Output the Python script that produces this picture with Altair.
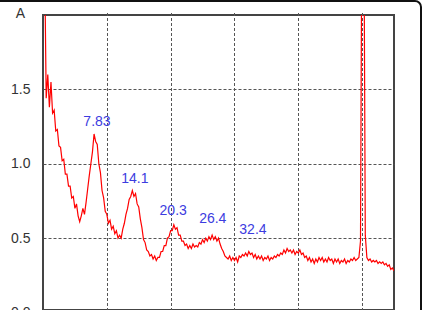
import altair as alt
import pandas as pd

amp = [
    3.00, 2.40, 1.44, 1.60,
    1.38, 1.55, 1.34, 1.36,
    1.22, 1.23, 1.12, 1.11,
    1.02, 1.03, 0.93, 0.93,
    0.85, 0.85, 0.77, 0.78,
    0.70, 0.73, 0.65, 0.61,
    0.65, 0.70, 0.66, 0.74,
    0.83, 0.92, 1.00, 1.08,
    1.20, 1.15, 1.13, 1.00,
    0.94, 0.82, 0.77, 0.68,
    0.66, 0.60, 0.62, 0.56,
    0.58, 0.53, 0.55, 0.50,
    0.52, 0.50, 0.56, 0.60,
    0.66, 0.70, 0.76, 0.78,
    0.82, 0.78, 0.80, 0.73,
    0.71, 0.63, 0.57, 0.49,
    0.47, 0.42, 0.41, 0.38,
    0.39, 0.36, 0.38, 0.35,
    0.37, 0.37, 0.41, 0.41,
    0.45, 0.45, 0.50, 0.51,
    0.55, 0.55, 0.59, 0.56,
    0.57, 0.52, 0.52, 0.48,
    0.48, 0.45, 0.46, 0.43,
    0.45, 0.43, 0.46, 0.44,
    0.45, 0.44, 0.47, 0.46,
    0.49, 0.47, 0.50, 0.48,
    0.51, 0.49, 0.52, 0.49,
    0.51, 0.48, 0.50, 0.46,
    0.43, 0.41, 0.38, 0.37,
    0.36, 0.38, 0.35, 0.37,
    0.35, 0.37, 0.34, 0.38,
    0.37, 0.39, 0.38, 0.40,
    0.38, 0.41, 0.39, 0.40,
    0.37, 0.39, 0.36, 0.38,
    0.36, 0.38, 0.35, 0.37,
    0.36, 0.38, 0.35, 0.37,
    0.36, 0.38, 0.37, 0.39,
    0.38, 0.40, 0.39, 0.42,
    0.40, 0.43, 0.41, 0.42,
    0.40, 0.42, 0.39, 0.41,
    0.40, 0.42, 0.39, 0.40,
    0.37, 0.38, 0.35, 0.37,
    0.34, 0.36, 0.33, 0.36,
    0.34, 0.37, 0.35, 0.37,
    0.34, 0.36, 0.34, 0.37,
    0.35, 0.36, 0.33, 0.36,
    0.34, 0.36, 0.33, 0.35,
    0.34, 0.36, 0.33, 0.35,
    0.34, 0.36, 0.35, 0.37,
    0.35, 0.36, 0.37, 0.48,
    3.00, 3.00, 0.52, 0.37,
    0.35, 0.36, 0.34, 0.35,
    0.34, 0.35, 0.33, 0.34,
    0.33, 0.34, 0.32, 0.33,
    0.31, 0.32, 0.29, 0.30,
    0.28,
]
freq = [i * 0.25 for i in range(len(amp))]

peak_labels = ["7.83", "14.1", "20.3", "26.4", "32.4"]
peak_label_x = [8.46, 14.4, 20.4, 26.6, 32.9]
peak_label_y = [1.28, 0.90, 0.68, 0.63, 0.555]

y_ticks = [0.0, 0.5, 1.0, 1.5]
x_grid = [10, 20, 30, 40, 50]

df = pd.DataFrame({"f": freq, "a": amp})
lab = pd.DataFrame({"t": peak_labels, "x": peak_label_x, "y": peak_label_y})
one = pd.DataFrame({"k": [0]})

xs = alt.Scale(domain=[0, 55], nice=False, zero=False)
ys = alt.Scale(domain=[0, 2], range=[297.5, 0], nice=False, zero=False)

line = alt.Chart(df).mark_line(color="#ff0000", strokeWidth=1.2, clip=True).encode(
    x=alt.X("f:Q", scale=xs,
            axis=alt.Axis(values=x_grid, labels=False, ticks=False, domain=False,
                          title=None, grid=True, gridColor="#555555",
                          gridDash=[3, 2], gridWidth=1)),
    y=alt.Y("a:Q", scale=ys,
            axis=alt.Axis(values=y_ticks, format=".1f", ticks=False, domain=False,
                          labelPadding=13, labelFont="Liberation Sans",
                          labelFontSize=14, labelColor="#333333",
                          grid=True, gridColor="#555555", gridDash=[3, 2],
                          gridWidth=1, title="A", titleAngle=0,
                          titleFont="Liberation Sans", titleFontSize=14,
                          titleFontWeight="normal", titleColor="#333333",
                          titleX=-23, titleY=-2, titleAlign="center",
                          titleBaseline="middle")),
)

texts = alt.Chart(lab).mark_text(
    font="Liberation Sans", fontSize=14, color="#3c3ce0", baseline="middle",
    align="center"
).encode(
    x=alt.X("x:Q", scale=xs),
    y=alt.Y("y:Q", scale=ys),
    text="t:N",
)

frame = alt.Chart(one).mark_rect(
    fill=None, filled=False, stroke="#111111", strokeWidth=2, cornerRadius=6, clip=False
).encode(
    x=alt.value(-60), x2=alt.value(378), y=alt.value(-14), y2=alt.value(400)
)

chart = alt.layer(line, texts, frame).properties(
    width=351, height=295,
    padding={"left": 43, "top": 15, "right": 31, "bottom": 0},
    autosize=alt.AutoSizeParams(type="none"),
    background="white",
).configure_view(stroke="#444444", strokeWidth=2)

chart.save("out.html", embed_options={"renderer": "svg", "actions": False})
